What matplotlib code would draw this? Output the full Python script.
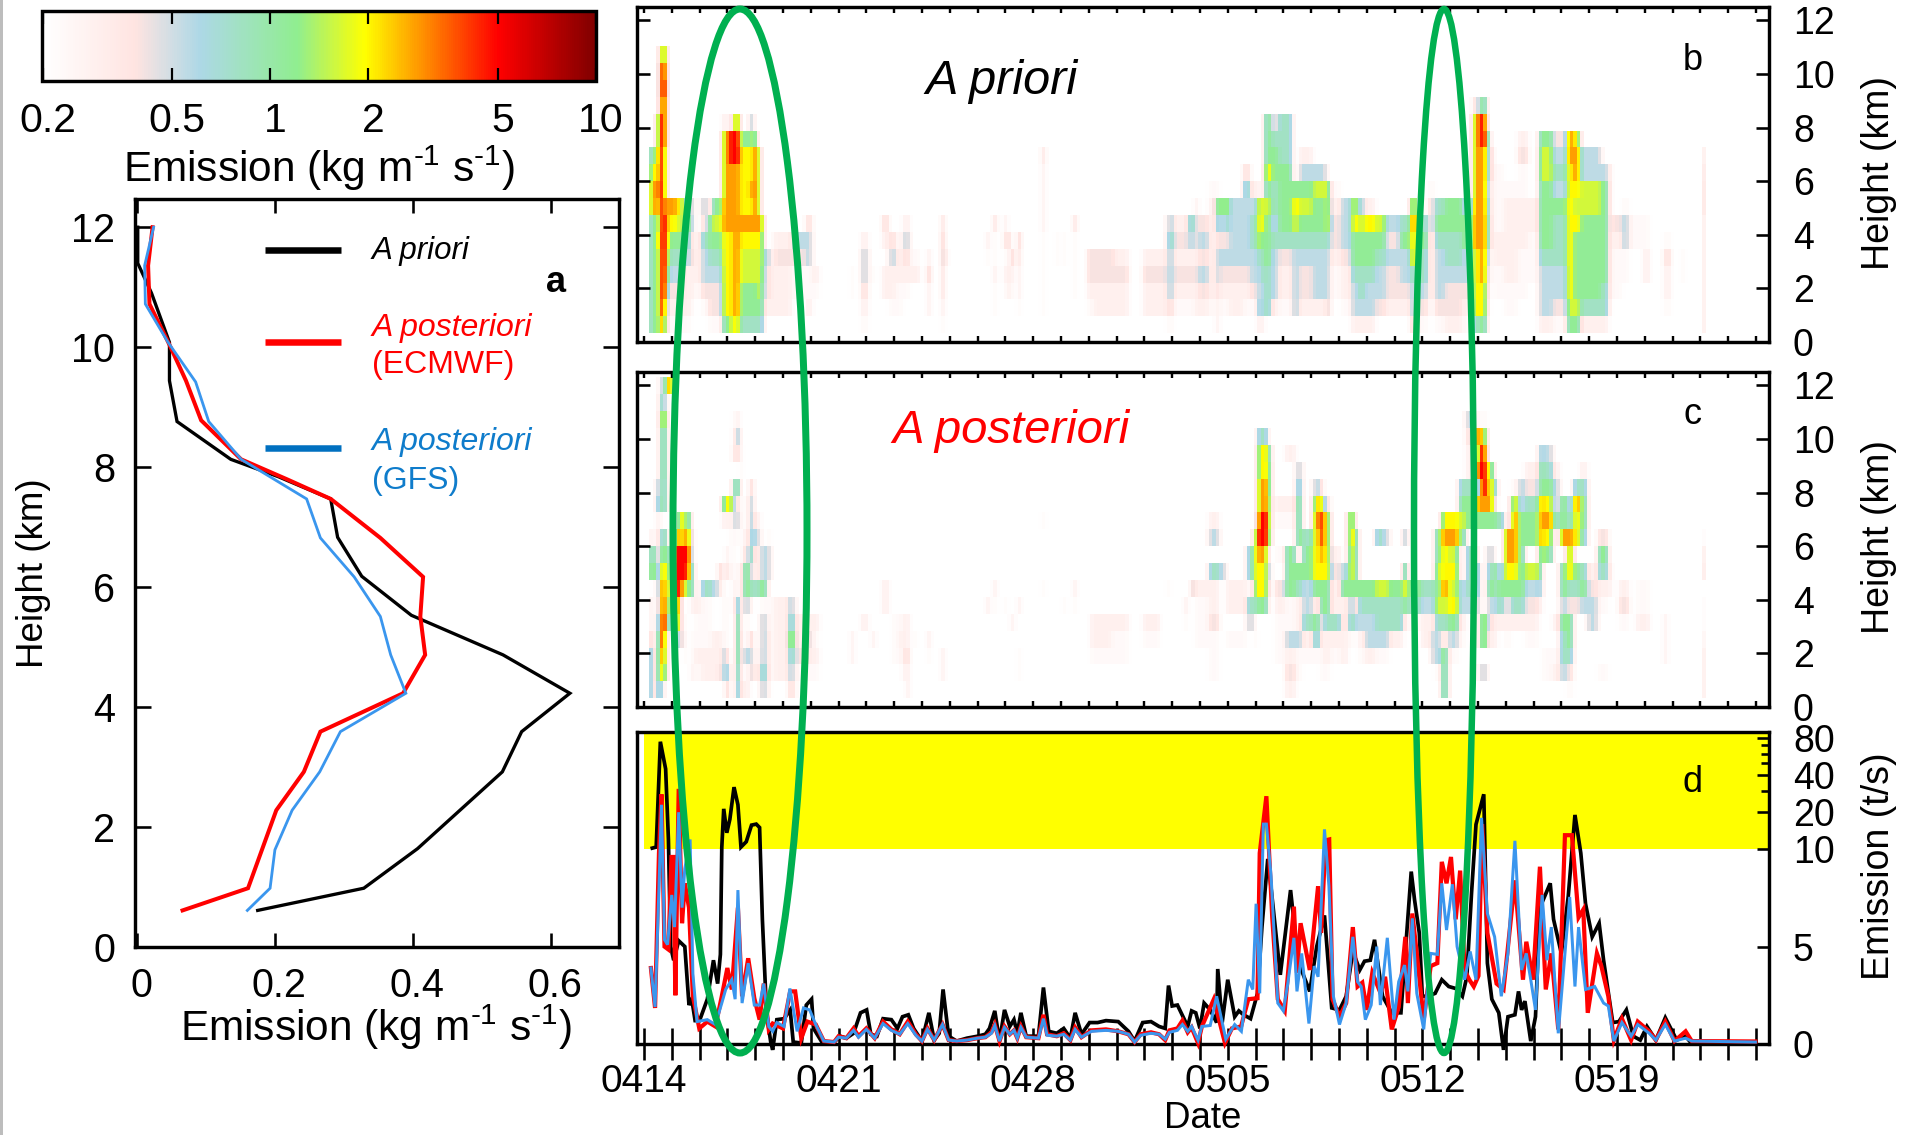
from matplotlib import pyplot as plt
from matplotlib.colors import LinearSegmentedColormap, LogNorm
from matplotlib.lines import Line2D
from matplotlib.patches import Ellipse
from matplotlib.ticker import FixedLocator, NullFormatter
from matplotlib.transforms import ScaledTranslation
import numpy as np

plt.rcParams['font.family'] = 'Liberation Sans'
plt.rcParams['mathtext.fontset'] = 'custom'
plt.rcParams['mathtext.rm'] = 'Liberation Sans'
plt.rcParams['mathtext.it'] = 'Liberation Sans:italic'
plt.rcParams['mathtext.default'] = 'regular'

W, H = 1915, 1135

# panel a: emission (kg/m/s), height (km)
prof_prior = [(0.001, 12), (0.001, 11.4), (0.021, 10.9), (0.047, 10.08), (0.047, 9.44), (0.058, 8.76),
              (0.136, 8.13), (0.205, 7.84), (0.281, 7.47), (0.291, 6.83), (0.326, 6.18), (0.398, 5.53),
              (0.531, 4.87), (0.628, 4.23), (0.558, 3.59), (0.53, 2.92), (0.407, 1.64), (0.329, 0.98),
              (0.175, 0.61)]
prof_ecmwf = [(0.0225, 12), (0.016, 11.36), (0.018, 10.72), (0.047, 10.04), (0.071, 9.44), (0.093, 8.78),
              (0.151, 8.13), (0.217, 7.8), (0.281, 7.47), (0.353, 6.82), (0.415, 6.17), (0.411, 5.51),
              (0.418, 4.87), (0.386, 4.23), (0.266, 3.59), (0.242, 2.92), (0.202, 2.28), (0.161, 0.98),
              (0.066, 0.61)]
prof_gfs = [(0.024, 12), (0.011, 11.36), (0.012, 10.72), (0.045, 10.08), (0.085, 9.42), (0.104, 8.76),
            (0.151, 8.13), (0.246, 7.47), (0.266, 6.82), (0.315, 6.17), (0.353, 5.51), (0.368, 4.87),
            (0.39, 4.23), (0.295, 3.59), (0.265, 2.92), (0.225, 2.28), (0.2, 1.62), (0.193, 0.98),
            (0.16, 0.61)]

# colour levels used in the height-time panels
levels = {'a': 0.23, 'p': 0.29, 'g': 0.4, 'b': 0.55, 't': 0.8, 'n': 1.15, 'l': 1.6,
          'y': 2.0, 'o': 2.8, 'r': 5.0, 'd': 7.0}

# panels b, c: (start day, end day, levels from the lowest height up)
prior_cols = [
    (.19, .46, 'nnnnnnnooyn'), (.46, .59, 'nnnnnlnyoyyyy'), (.59, .72, 'orrrrrrrrrrrrrddo'),
    (.72, .84, 'yorrrrroooorrrdro'), (.84, 1.0, 'apgtnlyo'), (1.0, 1.22, 'apgbtnyo'), (1.22, 1.47, 'apgbtnly'),
    (1.47, 1.72, 'apppbtnb'), (1.72, 1.84, '.appgpbb'), (1.84, 2.1, '..appp'), (2.1, 2.35, '.agbbtgb'),
    (2.35, 2.5, 'aggbtnn'), (2.5, 2.84, 'aggbtnln'), (2.84, 3.09, 'nyyyyyoooooop'), (3.09, 3.22, 'lyyyyyoooorr'),
    (3.22, 3.47, 'yooooooooorro'), (3.47, 3.84, 'tnnllyoyyyyn'), (3.84, 3.97, 'tnnllyoyoyynt'),
    (3.97, 4.09, 'tnnllyoooooy'), (4.09, 4.22, 'tnlllyooooo'), (4.22, 4.35, 'tnnllyo'), (4.35, 4.6, '.pggb'),
    (4.6, 4.74, '.pppaa'), (4.74, 5.34, '.pppgp'), (5.34, 5.84, '..aagb'), (5.84, 6.1, '.paabbg'),
    (6.1, 6.34, '..ap'), (7.5, 7.6, '..aa'), (7.84, 8.09, 'apgbbp'), (8.24, 8.35, '...a'), (8.6, 8.84, '..pp.pg'),
    (8.84, 9.05, '.appbg'), (9.05, 9.34, '.aappa'), (9.34, 9.6, '..apgbp'), (9.6, 9.93, '...pa'),
    (10.2, 10.37, '.ppbp'), (10.73, 10.85, 'apggbbg'), (10.85, 10.96, '....p'), (12.35, 12.47, '....ap'),
    (12.6, 12.72, '.aapaag'), (12.97, 13.09, '..apagp'), (13.09, 13.2, '..ppag'), (13.2, 13.34, '..apb'),
    (13.46, 13.6, '.appgb'), (14.34, 14.46, '.aaaaappppg'), (14.85, 14.97, '....aa'), (15.07, 15.19, '....aa'),
    (15.49, 15.6, '..aaaag'), (15.96, 16.2, '.apgg'), (16.2, 16.9, '.ppgg'), (16.9, 17.43, '.ppgp'),
    (17.97, 18.82, '.ppgp'), (18.82, 19.04, 'agbbbtb'), (19.04, 19.6, '.apgpgp'), (19.6, 19.85, '.apgpbt'),
    (19.85, 20.0, '.ppgpggp'), (20.0, 20.37, '.pgbgbg'), (20.37, 20.6, '.appppppa'), (20.6, 20.75, 'ppgbbgtla'),
    (20.75, 20.92, '.apgbgbn'), (20.92, 21.08, '.apgbgtl'), (21.08, 21.57, '.ppgbbbb'), (21.57, 21.82, '.apgbbbbtg'),
    (21.82, 22.07, '.agbbttbp'), (22.07, 22.2, 'ptbbtlyyp'), (22.2, 22.31, 'pbbttnyl'),
    (22.31, 22.56, '.tttnnnlnynnn'), (22.56, 22.8, '.pbbbtbttnntg'), (22.8, 23.3, '.appgtnnnnttt'),
    (23.3, 23.6, '.bbbbtlyn'), (23.6, 24.08, '.pggbtnlnbp'), (24.08, 24.57, '.pbbbtnnlb'), (24.57, 24.69, '.bbbbtyyl'),
    (24.69, 25.1, '..aapggpa'), (25.1, 25.43, '.appgbbb'), (25.43, 25.67, 'pbbtnnyl'), (25.67, 26.0, 'pbttnnlb'),
    (26.0, 26.33, 'pbbtnnyp'), (26.33, 26.74, '.gbbtnl'), (26.74, 27.23, '.pggbgb'), (27.23, 27.56, '.pgbbnt'),
    (27.56, 27.76, 'gbbtyyoy'), (27.76, 28.2, 'agbttnt'), (28.2, 28.46, '.appppgga'), (28.46, 28.79, 'agbbbtnt'),
    (28.79, 29.44, 'pggbttnn'), (29.44, 29.8, 'apgbbnnb'), (29.8, 30.05, 'tyyyyoooooooog'),
    (30.05, 30.3, 'nyyoooooooorrn'), (30.3, 30.43, '.appgttbgbbt'), (30.43, 30.6, '...aappppgg'),
    (30.6, 30.9, '..aappaaaa'), (30.9, 31.4, '.aapppppa'), (31.4, 31.82, '..aaapppaagp'), (31.82, 32.18, '...aaapp'),
    (32.18, 32.64, 'pbbbtnnnnlln'), (32.64, 33.2, 'agbbtttnbtbg'), (33.2, 33.38, 'nlyyyyyyyyoo'),
    (33.38, 33.66, 'nlnnnnylyooy'), (33.66, 34.44, 'ptnnnnnllbb'), (34.44, 34.66, 'pttnnnnnnb'),
    (34.66, 34.85, '.apppppppp'), (34.85, 35.2, '..aaapg'), (35.2, 35.4, '...aabba'), (35.4, 35.9, '.....aa'),
    (35.9, 36.16, '...ppaa'), (36.66, 36.9, '.appga'), (37.3, 37.47, '...aa'),
]
post_cols = [
    (.19, .34, 'nnnbpp.lnp'), (.34, .46, '....aaalna'), (.46, .59, 'tnntgappapptb'),
    (.59, .72, 'tyorrrroltattnnnynb'), (.72, .84, '.yooroyynn.nnnnnybt'), (.84, 1.09, '....bnlnt.........o'),
    (1.09, 1.22, '....oyrrrl'), (1.22, 1.34, '...torrrrol'), (1.34, 1.47, '...ga.orryy'), (1.47, 1.59, '..aaa.lrron'),
    (1.59, 1.72, '......norol'), (1.72, 1.84, '.paa.pntpp'), (1.84, 2.1, '.apaap'), (2.1, 2.47, '.ppaaat'),
    (2.47, 2.7, '.ppp..b'), (2.7, 2.84, '.gpp..pb'), (2.84, 2.97, '.bbaaaaa..pl'), (2.97, 3.09, 'btgaaa.gp.py'),
    (3.09, 3.22, '.a.....a.aay'), (3.22, 3.34, '.....ppaaabgn.gpa'), (3.34, 3.47, 'nlyyynaa.abgn.gtp'),
    (3.47, 3.6, 'paaa..pp.....aa'), (3.6, 3.84, 'pabaabnngpaa'), (3.84, 3.97, '.bbb.atgntttb'),
    (3.97, 4.22, '.pa...tppbp'), (4.22, 4.4, 'btbbbanbb'), (4.4, 4.6, 'apppaa.bba'), (4.6, 4.74, '.aaaaa'),
    (4.74, 5.2, '.ppppp'), (5.2, 5.5, 'gbtltb'), (5.5, 5.93, '.agpp'), (5.93, 6.1, '.apbp'), (6.1, 6.34, '.apap'),
    (7.5, 7.6, '..pp'), (7.84, 8.09, '....p'), (8.24, 8.35, '...p'), (8.6, 8.84, '.....pp'), (9.0, 9.15, '..aaa'),
    (9.2, 9.37, '..apa'), (9.37, 9.48, '.pgpp'), (9.48, 9.6, 'ppgpp'), (9.7, 9.82, '...a'), (10.2, 10.33, '..ap'),
    (10.73, 10.84, '.pp'), (12.35, 12.47, '.....p'), (12.6, 12.7, '.....ap'), (12.97, 13.09, '.....a'),
    (13.2, 13.34, '....p'), (13.46, 13.6, '.aa..p'), (14.34, 14.46, '......a...a'), (15.07, 15.19, '.....a'),
    (15.49, 15.6, '.....ap'), (16.1, 16.85, '..app'), (16.85, 17.43, '..aap'), (17.97, 18.53, '...ap'),
    (18.82, 18.97, '......a'), (19.41, 19.6, '....ap'), (19.7, 19.85, '......b'), (19.85, 20.37, '...aaap'),
    (20.37, 20.74, '.aaagppt.bp'), (20.74, 21.0, '.......b'), (21.0, 21.65, '...a.pp'), (21.65, 21.95, '....btatt'),
    (21.95, 22.1, '...a.tyyyya'), (22.1, 22.44, '.....nyyorrooyyt'), (22.44, 22.6, '......pg.lyylln'),
    (22.72, 23.05, '..aaapg.a.ap'), (23.05, 23.38, 'pgpbaannn.ap..p'), (23.38, 23.7, '.aabpptn.nnntb'),
    (23.7, 24.03, '..aptbbnnt'), (24.03, 24.31, '..atnpnyyyoyb'), (24.31, 24.47, '.aappnnyorrog'),
    (24.47, 24.69, '.apptnnyyyyg'), (24.69, 25.02, '..aptppgp'), (25.02, 25.3, '..ppppnb'),
    (25.3, 25.6, '...atbnllyy'), (25.6, 25.75, '....bpnnnn'), (25.75, 26.0, '..apbtn'), (26.0, 26.33, '..pbbtn'),
    (26.33, 26.57, '..abttl..t'), (26.57, 26.82, '..abttl..b'), (26.82, 27.31, '...pttn'), (27.31, 27.48, '....pnyy.t'),
    (27.48, 27.89, '....atn'), (27.89, 28.3, '...ppbt'), (28.3, 28.46, '..bbpbt'), (28.46, 28.7, '.abbtlnlnn'),
    (28.7, 28.95, 'nnnptloyyoy'), (28.95, 29.36, '..abnylyloy'), (29.36, 29.6, '...apbb..nlnt'),
    (29.6, 29.9, '.....bttt.nntppgb'), (29.9, 30.05, '.....btt..nopryr'), (30.05, 30.26, '.b.ll.....norrrya'),
    (30.26, 30.51, '...pgbntb.noyl'), (30.51, 30.67, '...ppbtn..npt'), (30.67, 30.92, '....ptnb..t'),
    (30.92, 31.16, '...apgnyooa'), (31.16, 31.4, '....ptnyoooya'), (31.4, 31.74, '....ptnnnnnbb'),
    (31.74, 32.15, '...apgbl.nntgp'), (32.15, 32.31, '.....ptnyooonnt'), (32.31, 32.72, '.aa.....nyoyntb'),
    (32.72, 32.97, '.pa.p.....tgbp'), (32.97, 33.13, '.bttnbnn.onn'), (33.13, 33.38, 'agtnngtyootb'),
    (33.38, 33.7, '.....gtn.yyot'), (33.7, 33.95, '.....bnt.tnntp'), (33.95, 34.28, '....bbgp'),
    (34.28, 34.69, '.a...aptng'), (34.69, 34.85, '......pp'), (35.1, 35.43, '....agp'), (35.75, 36.16, '....paa'),
    (36.66, 36.82, '..ppp'),
]

# panel d: (day after 0414, emission in t/s)
flux_prior = [(.3, 10.2), (.44, 10.4), (.59, 75), (.78, 45), (.88, 12), (.96, 5), (1.07, 4.3), (1.25, 5.3), (1.47, 5),
    (1.62, 2), (1.72, 2.3), (1.84, 1.2), (2.0, 1.2), (2.28, 2.3), (2.5, 4.3), (2.65, 3.1), (2.75, 4.6), (2.8, 10.3),
    (2.87, 21.3), (2.98, 13.6), (3.09, 17.5), (3.24, 32), (3.38, 23), (3.49, 10.4), (3.68, 11.5), (3.87, 15.7),
    (4.04, 16), (4.16, 15), (4.26, 6.4), (4.41, 1.6), (4.56, .1), (4.63, -.3), (4.78, 1.25), (5.04, 1.3), (5.26, 1.75),
    (5.37, .1), (5.66, .05), (5.84, 2), (6.03, 2.3), (6.1, .8), (6.4, .1), (6.84, .1), (7.06, .4), (7.28, .3),
    (7.54, .55), (7.79, 1.6), (8.01, 1.75), (8.16, .5), (8.38, .4), (8.6, 1.3), (8.9, 1.25), (9.12, .8), (9.3, 1.4),
    (9.51, 1.5), (9.7, .8), (10, .15), (10.25, 1.6), (10.44, .2), (10.62, .55), (10.76, 2.8), (10.96, .4),
    (11.25, .15), (11.62, .3), (12, .4), (12.28, .5), (12.43, .8), (12.62, 1.7), (12.79, .15), (12.97, 1.75),
    (13.16, .9), (13.31, 1.25), (13.43, .55), (13.56, 1.6), (13.75, .4), (14.19, .4), (14.37, 2.9), (14.56, .65),
    (14.85, .55), (15.1, .8), (15.34, .3), (15.51, 1.6), (15.74, .5), (16.03, 1.1), (16.32, 1.1), (16.62, 1.2),
    (17.06, 1.15), (17.43, .65), (17.65, .15), (17.94, 1.1), (18.24, 1.15), (18.53, .9), (18.75, .8), (18.87, 3),
    (19, 1.95), (19.19, 2), (19.56, .9), (19.7, 1.7), (19.85, 1.6), (20, .8), (20.15, 2.1), (20.37, 1.75), (20.6, 1.1),
    (20.64, 3.85), (20.8, 1.1), (21, 3.3), (21.25, 1.4), (21.4, 1.7), (21.57, 1.5), (21.82, 1.3), (22.07, 2.6),
    (22.23, 6), (22.44, 9.5), (22.56, 8), (22.89, 3.55), (23.26, 7.9), (23.54, 4.2), (23.95, 2.7), (24.2, 5),
    (24.48, 6.6), (24.74, 1.85), (25.02, 1.75), (25.26, 2.45), (25.5, 4.75), (25.75, 3.8), (25.92, 4.25), (26.13, 4.3),
    (26.28, 5.35), (26.57, 2.45), (26.9, 1.6), (27.23, 1.6), (27.6, 8.85), (27.72, 7.4), (27.89, 5.7), (28, 2.45),
    (28.2, 2.45), (28.46, 2.6), (28.7, 3.3), (28.95, 2.95), (29.2, 2.85), (29.44, 2.45), (29.6, 3.45), (29.77, 7.75),
    (29.93, 15.9), (30.21, 28), (30.34, 4.15), (30.5, 2.3), (30.75, 1.6), (30.92, -.3), (31.08, 1.4), (31.33, 1.5),
    (31.46, 2.7), (31.57, 1.75), (31.69, 2.2), (31.9, .15), (32.07, 1.4), (32.23, 7), (32.6, 8.25), (32.72, 6.4),
    (33, 4.65), (33.25, 7.6), (33.49, 19), (33.7, 9.8), (33.87, 7.2), (34.11, 5.5), (34.36, 6.2), (34.52, 4.3),
    (34.85, 1.1), (35.07, 1.15), (35.34, 1.75), (35.59, .4), (35.84, .2), (36.08, .9), (36.4, .2), (36.74, 1.35),
    (37.15, .2), (37.47, .4), (37.64, .1), (39.98, .08)]
flux_ecmwf = [(.25, 3.9), (.4, 1.85), (.54, 9.8), (.63, 28), (.74, 5), (.88, 4.85), (.99, 9.6), (1.06, 9.6), (1.13, 2.5),
    (1.25, 31), (1.37, 6.2), (1.47, 8.25), (1.62, 7), (1.76, 2.45), (1.99, .8), (2.28, 1.15), (2.57, .9), (2.8, 2.45),
    (3, 3.9), (3.16, 2.8), (3.38, 7), (3.53, 2.45), (3.75, 4.4), (3.97, 2.35), (4.16, 1.25), (4.31, 3.1), (4.49, .75),
    (4.63, 1.05), (5, .8), (5.26, 2.7), (5.44, 2.7), (5.66, .3), (5.88, 1.15), (6.18, 1), (6.47, .15), (6.84, .1),
    (7, .4), (7.28, .3), (7.54, .8), (7.72, .4), (8, .8), (8.3, .3), (8.6, 1.15), (8.9, .75), (9.2, .5), (9.49, 1.15),
    (9.78, .5), (10, .15), (10.2, .8), (10.44, .2), (10.74, 1), (10.96, .2), (11.25, .15), (11.62, .2), (12, .3),
    (12.28, .35), (12.5, .6), (12.62, 1), (12.79, .15), (12.97, .9), (13.16, .5), (13.31, .7), (13.43, .3), (13.56, .9),
    (13.75, .35), (14.19, .3), (14.37, 1.5), (14.5, .5), (14.85, .4), (15.1, .55), (15.34, .2), (15.51, .85),
    (15.74, .35), (16.1, .7), (16.62, .75), (17.06, .65), (17.43, .5), (17.65, .1), (17.87, .5), (18.24, .6),
    (18.53, .5), (18.75, .2), (18.9, .7), (19.19, .8), (19.37, 1.2), (19.56, .6), (19.7, .85), (19.93, .05), (20.07, .9),
    (20.5, 2.3), (20.9, .05), (21.15, .8), (21.48, .9), (21.74, 2.3), (22.07, 2.35), (22.15, 9.8), (22.39, 27),
    (22.6, 6.5), (22.8, 2.3), (23.05, 1.7), (23.38, 7.05), (23.49, 3.65), (23.62, 6.2), (23.95, 3.8), (24.25, 8.1),
    (24.36, 5.7), (24.52, 11.8), (24.65, 12), (24.77, 2.3), (25.02, 1.4), (25.26, 2.1), (25.5, 6), (25.67, 2.95),
    (25.84, 3.15), (26, 1.75), (26.2, 3.65), (26.5, 2.6), (26.66, 3.45), (26.9, .75), (27.15, 1.9), (27.39, 5.5),
    (27.48, 2.1), (27.64, 6.7), (27.8, 4.65), (28.05, 1.25), (28.3, 4), (28.54, 4.15), (28.7, 9.35), (28.87, 8.25),
    (29.03, 9.6), (29.2, 6.4), (29.36, 8.9), (29.52, 3.8), (29.69, 3.3), (29.85, 2.95), (30.02, 3.5), (30.15, 16),
    (30.34, 5.7), (30.67, 3.1), (30.92, 2.8), (31.33, 8.4), (31.62, 3.3), (31.74, 5.25), (31.98, 3.3), (32.23, 9.1),
    (32.44, 2.8), (32.64, 4.65), (32.89, .75), (33.13, 13), (33.38, 13), (33.62, 6.5), (33.79, 6.9), (33.95, 1.6),
    (34.28, 4.65), (34.44, 4), (34.69, 2.45), (34.89, .2), (35.18, 1.3), (35.51, .2), (35.75, 1.15), (36.16, .65),
    (36.4, .2), (36.74, 1.15), (37.07, .15), (37.47, .65), (37.69, .15), (39.98, .13)]
flux_gfs = [(.25, 3.9), (.4, 1.9), (.54, 8), (.63, 23), (.74, 5.35), (.85, 5.1), (1.0, 7.65), (1.1, 6), (1.25, 20),
    (1.37, 7), (1.47, 9), (1.66, 12), (1.76, 3.6), (1.91, 1.15), (2.28, 1.25), (2.57, 1), (2.8, 2.1), (2.94, 2.8),
    (3.16, 3.3), (3.28, 2.3), (3.38, 7.9), (3.53, 2.1), (3.75, 4.15), (3.97, 2), (4.16, 2), (4.31, 3.1), (4.49, .9),
    (4.63, .65), (4.78, 1.1), (5.04, .9), (5.25, 2.85), (5.51, .65), (5.74, 1.85), (5.96, 1.75), (6.18, 1), (6.47, .15),
    (6.84, .1), (7, .35), (7.28, .3), (7.54, .7), (7.72, .35), (8, .75), (8.3, .3), (8.6, 1.05), (8.9, .7), (9.2, .5),
    (9.49, 1.05), (9.78, .45), (10, .15), (10.2, .75), (10.44, .2), (10.74, 1), (10.96, .2), (11.25, .15), (11.62, .2),
    (12, .3), (12.28, .35), (12.5, .55), (12.62, .95), (12.79, .15), (12.97, .85), (13.16, .5), (13.31, .7), (13.43, .3),
    (13.56, .85), (13.75, .35), (14.19, .3), (14.37, 1.3), (14.5, .45), (14.85, .4), (15.1, .5), (15.34, .2),
    (15.51, .75), (15.74, .35), (16.1, .65), (16.62, .7), (17.06, .65), (17.43, .5), (17.65, .1), (17.87, .45),
    (18.24, .55), (18.53, .5), (18.75, .25), (18.9, .6), (19.19, .7), (19.37, 1), (19.56, .65), (19.7, .9), (19.93, .2),
    (20.07, .9), (20.37, .95), (20.6, 2.45), (20.93, .25), (21.25, 1), (21.49, .65), (21.74, 3.3), (21.9, 2.8),
    (22.02, 7.2), (22.15, 2.6), (22.28, 16), (22.39, 16), (22.56, 8.6), (22.8, 2.1), (23.0, 1.7), (23.16, 3.1),
    (23.38, 5.45), (23.49, 2.7), (23.66, 4.65), (23.92, 1.05), (24.11, 4), (24.25, 3.45), (24.48, 14.5), (24.64, 8.1),
    (24.8, 2.45), (25.02, 1), (25.26, 2.1), (25.5, 5.5), (25.67, 3.2), (25.8, 2.95), (25.95, 1.25), (26.16, 2),
    (26.36, 5), (26.49, 2), (26.74, 5.45), (26.98, 1.25), (27.15, 3.2), (27.36, 4.05), (27.48, 2.7), (27.64, 6.45),
    (27.8, 2.6), (28.05, .75), (28.3, 4.65), (28.54, 4.6), (28.7, 8.25), (28.87, 5.85), (29.08, 8.2), (29.25, 5),
    (29.52, 3.3), (29.72, 4.75), (29.93, 3.3), (30.13, 18), (30.34, 6.7), (30.6, 5.5), (30.84, 2.45), (31.08, 4.65),
    (31.33, 11.7), (31.57, 3.8), (31.74, 4.65), (31.9, 3.3), (32.07, 1.75), (32.31, 7.65), (32.48, 4.3), (32.64, 6),
    (32.89, .55), (33.3, 7.55), (33.49, 2.95), (33.62, 6), (33.87, 2.8), (34.2, 2.95), (34.52, 2.1), (34.69, 1.95),
    (34.89, .15), (35.18, 1.1), (35.51, .4), (35.75, 1), (36.16, .55), (36.4, .2), (36.74, 1), (37.07, .15), (37.47, .3),
    (37.69, .15), (39.98, .1)]

day_ticks = np.arange(0, 41)
date_labels = {0: '0414', 7: '0421', 14: '0428', 21: '0505', 28: '0512', 35: '0519'}
height_ticks = [0, 2, 4, 6, 8, 10, 12]
flux_major = [0, 5, 10, 20, 40, 80]
flux_minor = [30, 50, 60, 70]
cbar_ticks = [0.2, 0.5, 1, 2, 5, 10]
cbar_labels = ['0.2', '0.5', '1', '2', '5', '10']

black, red = '#000000', '#FF0000'
blue_line, blue_text = '#3A96EE', '#0F7CCB'
green = '#00B050'

cmap = LinearSegmentedColormap.from_list('emis', [(0, '#FFFFFF'), (.166, '#FFE4E1'), (.284, '#ADD8E6'),
                                                  (.46, '#90EE90'), (.583, '#FFFF00'), (.824, '#FF0000'),
                                                  (1, '#800000')])
norm = LogNorm(0.2, 10)


def pt(px):
    return px * 72 / 100


def add_ax(left, top, right, bottom):
    a = fig.add_axes([left / W, 1 - bottom / H, (right - left) / W, (bottom - top) / H])
    for s in a.spines.values():
        s.set_linewidth(pt(3.4))
    return a


def label(x, y, s, **kw):
    kw.setdefault('ha', 'center')
    kw.setdefault('va', 'center')
    return fig.text(x / W, 1 - y / H, s, **kw)


def to_grid(cols):
    grid = np.full((19, 304), 0.2)
    for start, end, prof in cols:
        i0 = int(round((start - 0.1875) / 0.125))
        i1 = int(round((end - 0.1875) / 0.125))
        for r, c in enumerate(prof):
            if c != '.':
                grid[r, i0:max(i1, i0 + 1)] = levels[c]
    # the reference image is soft along the time axis
    lg = np.log(grid)
    soft = 0.62 * lg + 0.19 * np.roll(lg, 1, axis=1) + 0.19 * np.roll(lg, -1, axis=1)
    return np.exp(soft)


def flux_up(y):
    y = np.asarray(y, dtype=float)
    return np.where(y <= 10, y, 10 + np.log2(np.maximum(y, 10) / 10) * 37 / 19.5)


def flux_down(y):
    y = np.asarray(y, dtype=float)
    return np.where(y <= 10, y, 10 * 2 ** ((y - 10) * 19.5 / 37))


fig = plt.figure(figsize=(W / 100, H / 100), dpi=100)
fig.add_artist(Line2D([1 / W, 1 / W], [0, 1], color='#BDBDBD', lw=pt(3)))

tick_fs = 27
wide_fs = 29.5

# colour bar
ax_cb = add_ax(42.5, 11, 596, 80.5)
mesh_cb = plt.cm.ScalarMappable(norm=norm, cmap=cmap)
cb = fig.colorbar(mesh_cb, cax=ax_cb, orientation='horizontal')
cb.outline.set_linewidth(pt(3.4))
cb.set_ticks(cbar_ticks)
cb.set_ticklabels(cbar_labels)
cb.minorticks_off()
ax_cb.tick_params(axis='x', direction='in', top=True, length=pt(13), width=pt(2.2), labelsize=wide_fs, pad=pt(21))
shift = ScaledTranslation(5 / 100, 0, fig.dpi_scale_trans)
for t in ax_cb.get_xticklabels():
    t.set_transform(t.get_transform() + shift)
label(319, 168, 'Emission (kg m$^{\\text{-}1}$ s$^{\\text{-}1}$)', fontsize=30.5)

# panel a
ax_a = add_ax(135, 199, 619.5, 947)
for pts, col, lw in [(prof_prior, black, 3.3), (prof_ecmwf, red, 4), (prof_gfs, blue_line, 2.8)]:
    xy = np.array(pts)
    ax_a.plot(xy[:, 0], xy[:, 1], color=col, lw=pt(lw), solid_joinstyle='miter')
ax_a.set_xlim(-0.003, 0.7)
ax_a.set_ylim(0, 12.47)
ax_a.set_xticks([0, 0.2, 0.4, 0.6], ['0', '0.2', '0.4', '0.6'])
ax_a.set_yticks(height_ticks)
ax_a.tick_params(axis='both', direction='in', top=True, right=True, width=pt(2.6), labelsize=wide_fs - 1)
ax_a.tick_params(axis='x', length=pt(14), pad=pt(20))
ax_a.tick_params(axis='y', length=pt(16), pad=pt(20))
shift_a = ScaledTranslation(4 / 100, 0, fig.dpi_scale_trans)
for t in ax_a.get_xticklabels():
    t.set_transform(t.get_transform() + shift_a)
label(376, 1027, 'Emission (kg m$^{\\text{-}1}$ s$^{\\text{-}1}$)', fontsize=30.5)
label(34, 573, 'Height (km)', rotation=90, fontsize=26.5)
label(556, 282, 'a', fontsize=26, fontweight='bold')

for y, col in [(250, black), (342, red), (448, '#0070C0')]:
    fig.add_artist(Line2D([265 / W, 341 / W], [1 - y / H, 1 - y / H], color=col, lw=pt(6.5), solid_capstyle='butt'))
label(372, 251, 'A priori', ha='left', style='italic', fontsize=22.5, color=black)
label(372, 328, 'A posteriori', ha='left', style='italic', fontsize=23, color=red)
label(372, 365, '(ECMWF)', ha='left', fontsize=23, color=red)
label(372, 442, 'A posteriori', ha='left', style='italic', fontsize=23, color=blue_text)
label(372, 481, '(GFS)', ha='left', fontsize=23, color=blue_text)

# panels b and c
col_edges = 0.1875 + 0.125 * np.arange(305)
row_edges = 0.33 + 0.63 * np.arange(20)
for cols, top, bottom, letter, ly in [(prior_cols, 7, 342, 'b', 61), (post_cols, 372, 707, 'c', 415)]:
    ax = add_ax(637, top, 1769, bottom)
    ax.pcolormesh(col_edges, row_edges, to_grid(cols), cmap=cmap, norm=norm, shading='flat')
    ax.set_xlim(-0.25, 40.47)
    ax.set_ylim(0, 12.5)
    ax.set_xticks(day_ticks)
    ax.set_xticklabels([])
    ax.set_yticks(height_ticks)
    ax.yaxis.tick_right()
    ax.tick_params(axis='x', direction='in', top=True, length=pt(6), width=pt(2.4))
    ax.tick_params(axis='y', direction='in', left=True, right=True, length=pt(13), width=pt(2.6),
                   labelsize=tick_fs, pad=pt(24))
    label(1693, ly, letter, fontsize=26)
    label(1879, (top + bottom) / 2 - 2, 'Height (km)', rotation=90, fontsize=27)
label(1001, 81, 'A priori', style='italic', fontsize=35)
label(1011, 431, 'A posteriori', style='italic', fontsize=34, color=red)

# panel d
ax_d = add_ax(637, 732, 1769, 1044)
ax_d.set_yscale('function', functions=(flux_up, flux_down))
ax_d.fill_between([0, 40.47], 10, 90, color='#FFFF00', lw=0, zorder=0)
for pts, col, lw in [(flux_prior, black, 3.7), (flux_ecmwf, red, 4.2), (flux_gfs, blue_line, 3)]:
    xy = np.array(pts)
    ax_d.plot(xy[:, 0], xy[:, 1], color=col, lw=pt(lw), clip_on=False, solid_joinstyle='miter', zorder=3)
ax_d.set_xlim(-0.25, 40.47)
ax_d.set_ylim(0, 90)
ax_d.set_xticks(day_ticks)
ax_d.set_xticklabels([date_labels.get(d, '') for d in day_ticks])
ax_d.yaxis.tick_right()
ax_d.set_yticks(flux_major, [str(v) for v in flux_major])
ax_d.yaxis.set_minor_locator(FixedLocator(flux_minor))
ax_d.yaxis.set_minor_formatter(NullFormatter())
ax_d.tick_params(axis='x', direction='inout', length=pt(32), width=pt(2.6), labelsize=28, pad=pt(4))
ax_d.tick_params(axis='y', which='major', direction='in', length=pt(12), width=pt(2.6), labelsize=tick_fs, pad=pt(24))
ax_d.tick_params(axis='y', which='minor', direction='in', length=pt(8), width=pt(2.6))
label(1693, 782, 'd', fontsize=26)
label(1879, 866, 'Emission (t/s)', rotation=90, fontsize=27)
label(1203, 1119, 'Date', fontsize=26.5)

# green ellipses on top of everything
ov = fig.add_axes([0, 0, 1, 1], zorder=10)
ov.set_xlim(0, W)
ov.set_ylim(H, 0)
ov.axis('off')
ov.add_patch(Ellipse((740, 531), 134, 1044, fill=False, edgecolor=green, lw=pt(7)))
ov.add_patch(Ellipse((1444, 531), 60, 1044, fill=False, edgecolor=green, lw=pt(6.5)))

fig.savefig('out.png', dpi=100)
